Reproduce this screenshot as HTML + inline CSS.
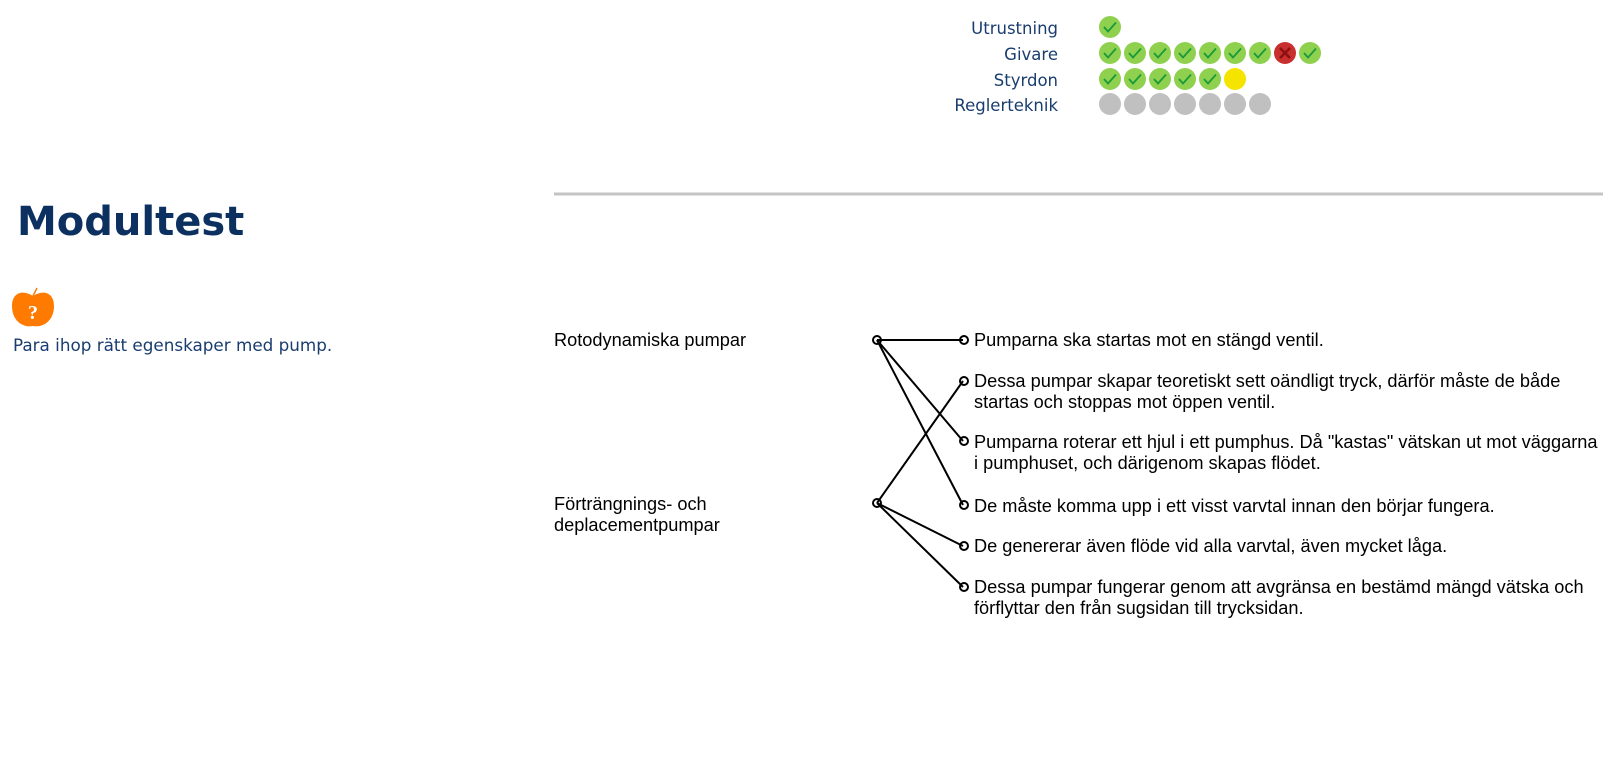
<!DOCTYPE html>
<html><head><meta charset="utf-8"><style>
body{margin:0;width:1619px;height:763px;background:#fff;position:relative;overflow:hidden;font-family:"Liberation Sans",Arial,sans-serif}
.a{position:absolute;white-space:nowrap}
.lab{font-family:"DejaVu Sans",sans-serif;font-size:16.5px;color:#1a3d70;right:561px;line-height:20px}
.t{font-size:18.2px;color:#000;line-height:21px}
</style></head><body>
<div class="a lab" style="top:19px">Utrustning</div>
<div class="a lab" style="top:45px">Givare</div>
<div class="a lab" style="top:71px">Styrdon</div>
<div class="a lab" style="top:96px">Reglerteknik</div>
<svg class="a" style="left:0;top:0" width="1619" height="763">
<defs>
<g id="ok"><circle r="11" fill="#8fd14f"/><path d="M-6,0 L-2,4.5 L6,-4.5" fill="none" stroke="#1a9a3a" stroke-width="1.8"/></g>
<g id="no"><circle r="11" fill="#c8302f"/><path d="M-5,-5 L5,5 M5,-5 L-5,5" stroke="#8e1010" stroke-width="2.6"/></g>
<g id="ye"><circle r="11" fill="#f5e400"/></g>
<g id="gr"><circle r="11" fill="#c0c0c0"/></g>
</defs>
<use href="#ok" x="1110" y="27"/>
<use href="#ok" x="1110" y="53"/><use href="#ok" x="1135" y="53"/><use href="#ok" x="1160" y="53"/><use href="#ok" x="1185" y="53"/><use href="#ok" x="1210" y="53"/><use href="#ok" x="1235" y="53"/><use href="#ok" x="1260" y="53"/><use href="#no" x="1285" y="53"/><use href="#ok" x="1310" y="53"/>
<use href="#ok" x="1110" y="79"/><use href="#ok" x="1135" y="79"/><use href="#ok" x="1160" y="79"/><use href="#ok" x="1185" y="79"/><use href="#ok" x="1210" y="79"/><use href="#ye" x="1235" y="79"/>
<use href="#gr" x="1110" y="104"/><use href="#gr" x="1135" y="104"/><use href="#gr" x="1160" y="104"/><use href="#gr" x="1185" y="104"/><use href="#gr" x="1210" y="104"/><use href="#gr" x="1235" y="104"/><use href="#gr" x="1260" y="104"/>
<line x1="554" y1="194" x2="1603" y2="194" stroke="#c4c4c4" stroke-width="3"/>
<path d="M33,296 C22,289 12,293 12,306 C12,320 22,328 33,326 C44,328 54,320 54,306 C54,293 44,289 33,296Z" fill="#ff7a00"/>
<path d="M33,296 L37,288" stroke="#ff7a00" stroke-width="1.5"/>
<text x="33" y="319" font-family="Liberation Serif,serif" font-weight="bold" font-size="20" fill="#fff" text-anchor="middle">?</text>
<g stroke="#000" stroke-width="2" fill="none">
<line x1="877" y1="340" x2="963" y2="340"/>
<line x1="877" y1="340" x2="963" y2="441"/>
<line x1="877" y1="340" x2="963" y2="505"/>
<line x1="877" y1="503" x2="963" y2="381"/>
<line x1="877" y1="503" x2="963" y2="546"/>
<line x1="877" y1="503" x2="963" y2="587"/>
<circle cx="877" cy="340" r="4"/><circle cx="877" cy="503" r="4"/>
<circle cx="964" cy="340" r="4"/><circle cx="964" cy="381" r="4"/><circle cx="964" cy="441" r="4"/><circle cx="964" cy="505" r="4"/><circle cx="964" cy="546" r="4"/><circle cx="964" cy="587" r="4"/>
</g>
</svg>
<div class="a" style="left:17px;top:199px;font-family:'DejaVu Sans',sans-serif;font-weight:bold;font-size:40px;color:#0c3060">Modultest</div>
<div class="a" style="left:13px;top:335px;font-family:'DejaVu Sans',sans-serif;font-size:16.8px;color:#1a3d70">Para ihop rätt egenskaper med pump.</div>
<div class="a t" style="left:554px;top:330px">Rotodynamiska pumpar</div>
<div class="a t" style="left:554px;top:494px">Förträngnings- och<br>deplacementpumpar</div>
<div class="a t" style="left:974px;top:330px">Pumparna ska startas mot en stängd ventil.</div>
<div class="a t" style="left:974px;top:371px">Dessa pumpar skapar teoretiskt sett oändligt tryck, därför måste de både<br>startas och stoppas mot öppen ventil.</div>
<div class="a t" style="left:974px;top:432px">Pumparna roterar ett hjul i ett pumphus. Då "kastas" vätskan ut mot väggarna<br>i pumphuset, och därigenom skapas flödet.</div>
<div class="a t" style="left:974px;top:496px">De måste komma upp i ett visst varvtal innan den börjar fungera.</div>
<div class="a t" style="left:974px;top:536px">De genererar även flöde vid alla varvtal, även mycket låga.</div>
<div class="a t" style="left:974px;top:577px">Dessa pumpar fungerar genom att avgränsa en bestämd mängd vätska och<br>förflyttar den från sugsidan till trycksidan.</div>
</body></html>
